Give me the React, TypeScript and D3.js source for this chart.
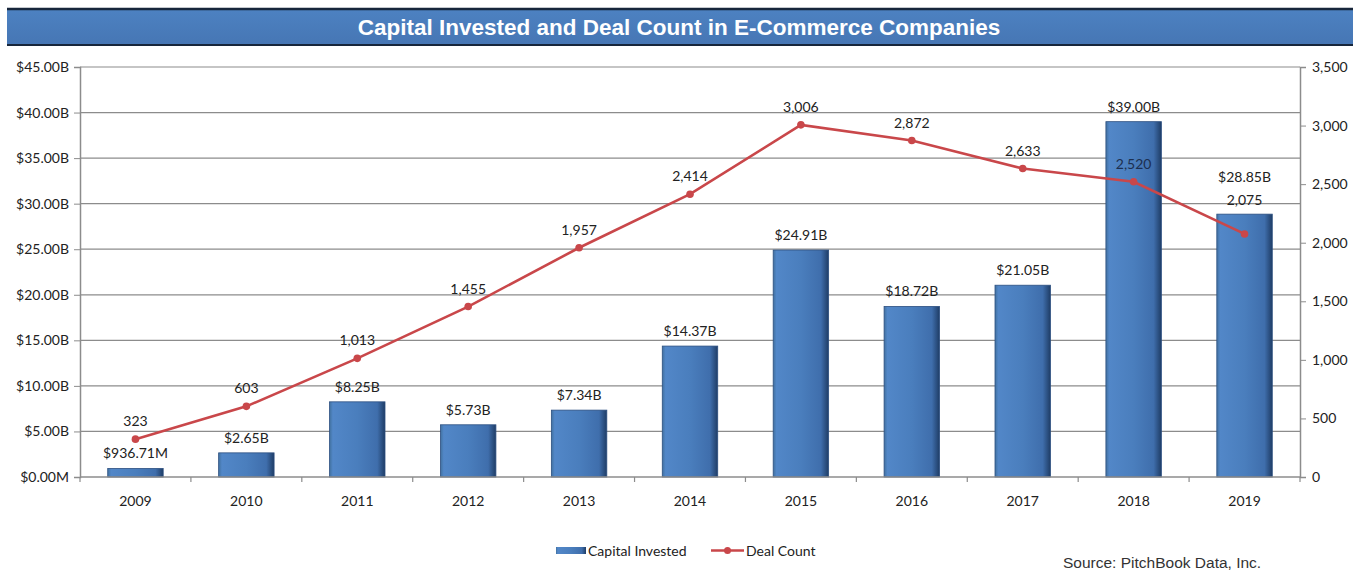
import React, { useEffect, useRef } from 'react';
import * as d3 from 'd3';

const years = ['2009', '2010', '2011', '2012', '2013', '2014', '2015', '2016', '2017', '2018', '2019'];
const capitalInvested = [0.93671, 2.65, 8.25, 5.73, 7.34, 14.37, 24.91, 18.72, 21.05, 39.0, 28.85];
const capitalLabels = ['$936.71M', '$2.65B', '$8.25B', '$5.73B', '$7.34B', '$14.37B', '$24.91B', '$18.72B', '$21.05B', '$39.00B', '$28.85B'];
const dealCount = [323, 603, 1013, 1455, 1957, 2414, 3006, 2872, 2633, 2520, 2075];
const leftTicks = [0, 5, 10, 15, 20, 25, 30, 35, 40, 45];
const rightTicks = [0, 500, 1000, 1500, 2000, 2500, 3000, 3500];

const W = 1362;
const H = 571;
const LABEL_FONT = 'Lato, "Open Sans", sans-serif';
const FS = 14;

const App: React.FC = () => {
  const svgRef = useRef<SVGSVGElement>(null);

  useEffect(() => {
    if (!svgRef.current) return;
    const svg = d3.select(svgRef.current);
    svg.selectAll('*').remove();

    const left = 80;
    const right = 1300;
    const top = 67;
    const bottom = 477;

    const x = d3.scaleBand<string>().domain(years).range([left, right]).paddingInner(0.5).paddingOuter(0.25);
    const xc = (y: string) => (x(y) as number) + x.bandwidth() / 2;
    const yL = d3.scaleLinear().domain([0, 45]).range([bottom, top]);
    const yR = d3.scaleLinear().domain([0, 3500]).range([bottom, top]);

    const defs = svg.append('defs');
    const tg = defs.append('linearGradient').attr('id', 'titleGrad').attr('x1', 0).attr('y1', 0).attr('x2', 0).attr('y2', 1);
    tg.append('stop').attr('offset', '0%').attr('stop-color', '#4d82c2');
    tg.append('stop').attr('offset', '100%').attr('stop-color', '#4676b4');

    const bg = defs.append('linearGradient').attr('id', 'barGrad').attr('x1', 0).attr('y1', 0).attr('x2', 1).attr('y2', 0);
    bg.append('stop').attr('offset', '0%').attr('stop-color', '#41719f');
    bg.append('stop').attr('offset', '6%').attr('stop-color', '#5287c8');
    bg.append('stop').attr('offset', '50%').attr('stop-color', '#4a7ebd');
    bg.append('stop').attr('offset', '86%').attr('stop-color', '#3f6eac');
    bg.append('stop').attr('offset', '100%').attr('stop-color', '#1f3d66');

    // title bar
    svg.append('rect').attr('x', 7).attr('y', 8).attr('width', 1346).attr('height', 37)
      .attr('fill', 'url(#titleGrad)');
    svg.append('line').attr('x1', 7).attr('x2', 1353).attr('y1', 9).attr('y2', 9).attr('stroke', '#17263b').attr('stroke-width', 2.5);
    svg.append('line').attr('x1', 7).attr('x2', 1353).attr('y1', 45).attr('y2', 45).attr('stroke', '#17263b').attr('stroke-width', 2);
    svg.append('text').attr('x', 679).attr('y', 35).attr('text-anchor', 'middle')
      .attr('font-family', '"Liberation Sans", Arial, sans-serif').attr('font-weight', 'bold')
      .attr('font-size', 22.5).attr('fill', '#ffffff')
      .text('Capital Invested and Deal Count in E-Commerce Companies');

    // gridlines
    svg.append('g').selectAll('line').data(leftTicks.filter(t => t > 0)).enter().append('line')
      .attr('x1', left).attr('x2', right)
      .attr('y1', d => yL(d)).attr('y2', d => yL(d))
      .attr('stroke', '#8c8c8c').attr('stroke-width', 1.2);

    // left axis
    const gl = svg.append('g').attr('transform', `translate(${left},0)`)
      .call(d3.axisLeft(yL).tickValues(leftTicks).tickSize(6).tickPadding(5)
        .tickFormat(d => (+d === 0 ? '$0.00M' : `$${(+d).toFixed(2)}B`)));
    gl.select('.domain').attr('stroke', '#8c8c8c').attr('stroke-width', 1.5);
    gl.selectAll('.tick line').attr('stroke', '#8c8c8c');
    gl.selectAll('.tick text').attr('font-family', LABEL_FONT).attr('font-size', FS).attr('fill', '#222');

    // right axis
    const gr = svg.append('g').attr('transform', `translate(${right},0)`)
      .call(d3.axisRight(yR).tickValues(rightTicks).tickSize(6).tickPadding(6)
        .tickFormat(d => d3.format(',')(+d)));
    gr.select('.domain').attr('stroke', '#8c8c8c').attr('stroke-width', 1.5);
    gr.selectAll('.tick line').attr('stroke', '#8c8c8c');
    gr.selectAll('.tick text').attr('font-family', LABEL_FONT).attr('font-size', FS).attr('fill', '#222');

    // bars
    svg.append('g').selectAll('rect').data(years).enter().append('rect')
      .attr('x', d => x(d) as number)
      .attr('width', x.bandwidth())
      .attr('y', (d, i) => yL(capitalInvested[i]))
      .attr('height', (d, i) => bottom - yL(capitalInvested[i]))
      .attr('fill', 'url(#barGrad)')
      .attr('stroke', '#2c4f80').attr('stroke-width', 0.8);

    // bottom axis
    const bounds = d3.range(years.length + 1).map(i => left + i * ((right - left) / years.length));
    svg.append('line').attr('x1', left).attr('x2', right).attr('y1', bottom).attr('y2', bottom)
      .attr('stroke', '#8c8c8c').attr('stroke-width', 1.5);
    svg.append('g').selectAll('line').data(bounds).enter().append('line')
      .attr('x1', d => d).attr('x2', d => d).attr('y1', bottom).attr('y2', bottom + 5)
      .attr('stroke', '#8c8c8c').attr('stroke-width', 1.2);
    svg.append('g').selectAll('text').data(years).enter().append('text')
      .attr('x', d => xc(d)).attr('y', 506).attr('text-anchor', 'middle')
      .attr('font-family', LABEL_FONT).attr('font-size', FS).attr('fill', '#222')
      .text(d => d);

    // bar labels
    const barLabelShift = (i: number) => (i === years.length - 1 ? 22 : 0);
    svg.append('g').selectAll('text').data(years).enter().append('text')
      .attr('x', d => xc(d))
      .attr('y', (d, i) => yL(capitalInvested[i]) - 10 - barLabelShift(i))
      .attr('text-anchor', 'middle')
      .attr('font-family', LABEL_FONT).attr('font-size', FS).attr('fill', '#222')
      .text((d, i) => capitalLabels[i]);

    // line
    const line = d3.line<number>().x((d, i) => xc(years[i])).y(d => yR(d));
    svg.append('path').datum(dealCount).attr('d', line)
      .attr('fill', 'none').attr('stroke', '#c9474a').attr('stroke-width', 2.6);
    svg.append('g').selectAll('circle').data(dealCount).enter().append('circle')
      .attr('cx', (d, i) => xc(years[i])).attr('cy', d => yR(d)).attr('r', 3.8)
      .attr('fill', '#c9474a');

    const pointLabelShift = (i: number) => (i === years.length - 1 ? 16 : 0);
    svg.append('g').selectAll('text').data(dealCount).enter().append('text')
      .attr('x', (d, i) => xc(years[i]))
      .attr('y', (d, i) => yR(d) - 13 - pointLabelShift(i))
      .attr('text-anchor', 'middle')
      .attr('font-family', LABEL_FONT).attr('font-size', FS)
      .attr('fill', (d, i) => (i === years.length - 2 ? '#1c2f4f' : '#222'))
      .text(d => d3.format(',')(d));

    // legend
    const lg = svg.append('g');
    lg.append('rect').attr('x', 556).attr('y', 547).attr('width', 30).attr('height', 7).attr('fill', 'url(#barGrad)');
    lg.append('text').attr('x', 588).attr('y', 556).attr('font-family', LABEL_FONT).attr('font-size', FS).attr('fill', '#222').text('Capital Invested');
    lg.append('line').attr('x1', 711).attr('x2', 744).attr('y1', 550.5).attr('y2', 550.5).attr('stroke', '#c9474a').attr('stroke-width', 2.4);
    lg.append('circle').attr('cx', 727.5).attr('cy', 550.5).attr('r', 3.5).attr('fill', '#c9474a');
    lg.append('text').attr('x', 746).attr('y', 556).attr('font-family', LABEL_FONT).attr('font-size', FS).attr('fill', '#222').text('Deal Count');

    svg.append('text').attr('x', 1063).attr('y', 568)
      .attr('font-family', '"Liberation Sans", Arial, sans-serif').attr('font-size', 15.5).attr('fill', '#333')
      .text('Source: PitchBook Data, Inc.');
  }, []);

  return (
    <svg ref={svgRef} width={W} height={H} style={{ position: 'absolute', left: 0, top: 0, background: '#fff' }} />
  );
};

export default App;
